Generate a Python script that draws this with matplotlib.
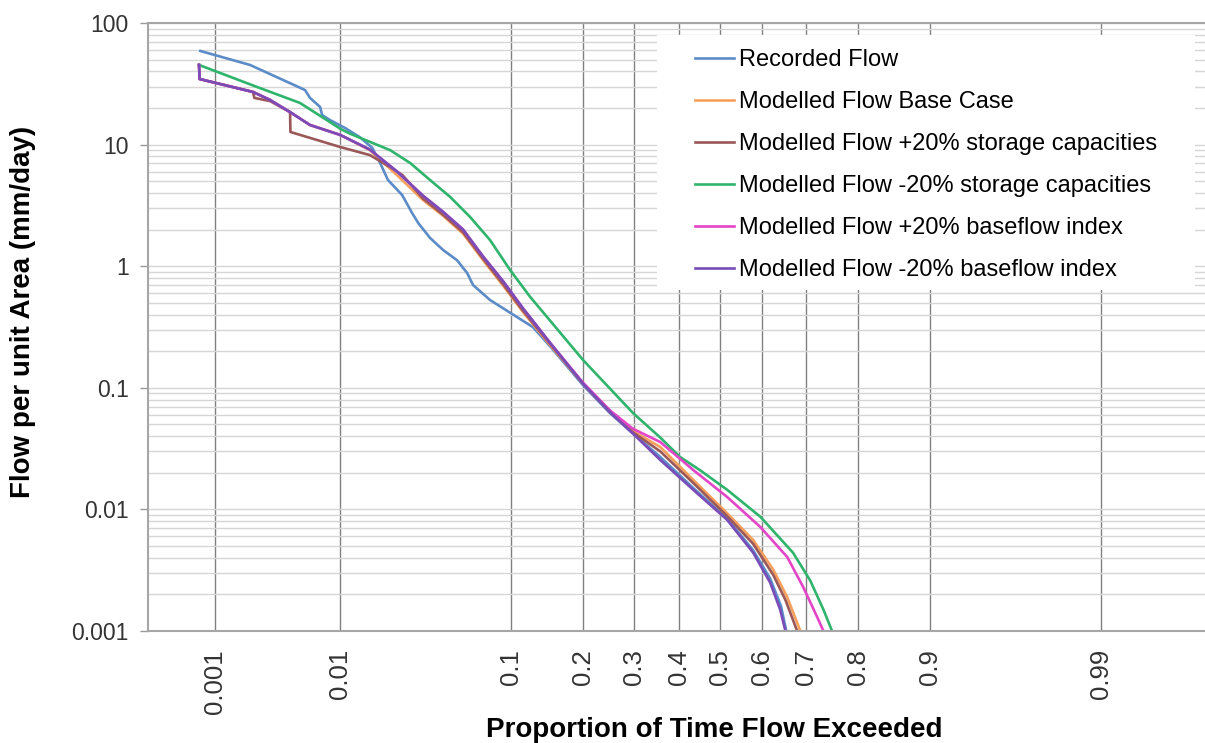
import math
import numpy as np
import matplotlib
matplotlib.use('Agg')
import matplotlib.pyplot as plt
from matplotlib.ticker import LogLocator, NullFormatter, NullLocator
from matplotlib.patches import Rectangle

plt.rcParams['font.family'] = ['Liberation Sans', 'DejaVu Sans']

# proportion of time exceeded (x) and flow per unit area in mm/day (y)
rec_p = [0.00074, 0.00202, 0.00376, 0.00557, 0.00607, 0.00722, 0.00747, 0.00854,
         0.0109, 0.0138, 0.0167, 0.0188, 0.0211, 0.0259, 0.0298, 0.0324, 0.0380,
         0.0451, 0.0538, 0.0609, 0.0654, 0.0797, 0.107, 0.126, 0.149, 0.201,
         0.250, 0.297, 0.357, 0.4345, 0.517, 0.580, 0.620, 0.645, 0.657, 0.662]
rec_q = [58.9, 45.2, 34.0, 28.1, 24.2, 20.4, 17.5, 15.9,
         13.7, 11.5, 9.4, 7.06, 5.12, 3.85, 2.74, 2.27, 1.71,
         1.36, 1.12, 0.88, 0.70, 0.527, 0.382, 0.316, 0.22, 0.105,
         0.062, 0.042, 0.027, 0.015, 0.0084, 0.0046, 0.0027, 0.0016, 0.001, 0.0008]

base_p = [0.00072, 0.00073, 0.00214, 0.00296, 0.00427, 0.00607, 0.0101, 0.0161,
          0.0241, 0.0346, 0.0451, 0.058, 0.0736, 0.0923, 0.114, 0.149, 0.201,
          0.2505, 0.297, 0.357, 0.4345, 0.517, 0.580, 0.627, 0.659, 0.688, 0.695]
base_q = [45.2, 34.6, 27.1, 23.3, 18.5, 14.5, 12.0, 9.0,
          5.6, 3.5, 2.6, 1.85, 1.12, 0.69, 0.42, 0.225, 0.108,
          0.064, 0.044, 0.0326, 0.0175, 0.0093, 0.0056, 0.0032, 0.0019, 0.001, 0.0008]

stor_up_p = [0.00072, 0.00073, 0.00214, 0.0022, 0.00296, 0.00427, 0.0043, 0.0101,
             0.0161, 0.0215, 0.0261, 0.0346, 0.0451, 0.058, 0.0736, 0.0923, 0.114,
             0.149, 0.201, 0.2505, 0.297, 0.357, 0.4345, 0.517, 0.580, 0.627,
             0.655, 0.681, 0.686]
stor_up_q = [45.2, 34.6, 27.1, 24.2, 22.8, 18.5, 12.7, 9.55,
             8.2, 6.6, 5.6, 3.6, 2.65, 1.9, 1.15, 0.71, 0.43,
             0.23, 0.108, 0.063, 0.043, 0.030, 0.0165, 0.0088, 0.0052, 0.0029,
             0.0018, 0.001, 0.0008]

stor_dn_p = [0.00072, 0.00231, 0.0051, 0.0101, 0.0118, 0.0218, 0.029, 0.038,
             0.0494, 0.0631, 0.0797, 0.0995, 0.1226, 0.201, 0.297, 0.357, 0.403,
             0.451, 0.517, 0.597, 0.672, 0.709, 0.736, 0.753, 0.758]
stor_dn_q = [45.2, 29.8, 22.0, 13.5, 12.3, 9.0, 7.06, 5.12,
             3.71, 2.54, 1.64, 0.93, 0.56, 0.169, 0.062, 0.039, 0.027,
             0.021, 0.0145, 0.0087, 0.0044, 0.0026, 0.0015, 0.001, 0.0008]

bfi_up_p = [0.00072, 0.00073, 0.00214, 0.00296, 0.00427, 0.00607, 0.0101, 0.0161,
            0.0241, 0.0346, 0.0451, 0.058, 0.0736, 0.0923, 0.114, 0.149, 0.201,
            0.2505, 0.297, 0.357, 0.4345, 0.517, 0.597, 0.659, 0.694, 0.7235,
            0.736, 0.740]
bfi_up_q = [45.2, 34.6, 27.1, 23.3, 18.5, 14.5, 12.0, 9.1,
            6.0, 3.8, 2.8, 2.0, 1.2, 0.75, 0.45, 0.235, 0.11,
            0.065, 0.046, 0.0358, 0.0211, 0.01265, 0.00716, 0.00406, 0.0023, 0.0013,
            0.001, 0.0008]

bfi_dn_p = [0.00072, 0.00073, 0.00214, 0.00296, 0.00427, 0.00607, 0.0101, 0.0161,
            0.0241, 0.0346, 0.0451, 0.058, 0.0736, 0.0923, 0.114, 0.149, 0.201,
            0.2505, 0.297, 0.357, 0.4345, 0.517, 0.580, 0.620, 0.643, 0.655, 0.660]
bfi_dn_q = [45.2, 34.6, 27.1, 23.3, 18.5, 14.5, 12.0, 9.1,
            6.0, 3.8, 2.8, 2.0, 1.2, 0.75, 0.45, 0.235, 0.108,
            0.063, 0.042, 0.0255, 0.0145, 0.0082, 0.0044, 0.0025, 0.0015, 0.001, 0.0008]

labels = ['Recorded Flow', 'Modelled Flow Base Case',
          'Modelled Flow +20% storage capacities', 'Modelled Flow -20% storage capacities',
          'Modelled Flow +20% baseflow index', 'Modelled Flow -20% baseflow index']
colors = ['#5b8cc8', '#f7a05c', '#9a5858', '#2fb46c', '#e444c8', '#7a4cb8']

x_ticks = [0.001, 0.01, 0.1, 0.2, 0.3, 0.4, 0.5, 0.6, 0.7, 0.8, 0.9, 0.99]
x_tick_labels = ['0.001', '0.01', '0.1', '0.2', '0.3', '0.4', '0.5', '0.6', '0.7',
                 '0.8', '0.9', '0.99']
y_ticks = [0.001, 0.01, 0.1, 1, 10, 100]
y_tick_labels = ['0.001', '0.01', '0.1', '1', '10', '100']


# normal probability scale (Acklam inverse normal)
A = [-3.969683028665376e+01, 2.209460984245205e+02, -2.759285104469687e+02,
     1.383577518672690e+02, -3.066479806614716e+01, 2.506628277459239e+00]
B = [-5.447609879822406e+01, 1.615858368580409e+02, -1.556989798598866e+02,
     6.680131188771972e+01, -1.328068155288572e+01]
C = [-7.784894002430293e-03, -3.223964580411365e-01, -2.400758276357320e+00,
     -2.549732539343734e+00, 4.374664141464968e+00, 2.938163982698783e+00]
D = [7.784695709041462e-03, 3.224671290700398e-01, 2.445134137142996e+00,
     3.754408661907416e+00]


def norm_ppf(p):
    p = np.clip(np.asarray(p, dtype=float), 1e-12, 1 - 1e-12)
    plow = 0.02425
    q = p - 0.5
    r = q * q
    mid = (((((A[0]*r + A[1])*r + A[2])*r + A[3])*r + A[4])*r + A[5])*q / \
          (((((B[0]*r + B[1])*r + B[2])*r + B[3])*r + B[4])*r + 1)
    ql = np.sqrt(-2 * np.log(p))
    low = (((((C[0]*ql + C[1])*ql + C[2])*ql + C[3])*ql + C[4])*ql + C[5]) / \
          ((((D[0]*ql + D[1])*ql + D[2])*ql + D[3])*ql + 1)
    qh = np.sqrt(-2 * np.log(1 - p))
    high = -(((((C[0]*qh + C[1])*qh + C[2])*qh + C[3])*qh + C[4])*qh + C[5]) / \
           ((((D[0]*qh + D[1])*qh + D[2])*qh + D[3])*qh + 1)
    return np.where(p < plow, low, np.where(p > 1 - plow, high, mid))


_erf = np.vectorize(math.erf, otypes=[float])


def norm_cdf(z):
    z = np.asarray(z, dtype=float)
    return 0.5 * (1 + _erf(z / math.sqrt(2)))


fig = plt.figure(figsize=(12.05, 7.43), dpi=100)
ax = fig.add_axes([148 / 1205, 1 - 631 / 743, 1132 / 1205, 608 / 743])

series = [(rec_p, rec_q), (base_p, base_q), (stor_up_p, stor_up_q),
          (stor_dn_p, stor_dn_q), (bfi_up_p, bfi_up_q), (bfi_dn_p, bfi_dn_q)]
handles = []
for (p, q), lab, col in zip(series, labels, colors):
    h, = ax.plot(p, q, color=col, lw=1.9, label=lab, zorder=2)
    handles.append(h)

ax.set_xscale('function', functions=(norm_ppf, norm_cdf))
ax.set_yscale('log')
ax.set_xlim(0.000234, 0.99969)
ax.set_ylim(0.001, 100)

ax.set_xticks(x_ticks)
ax.set_xticklabels(x_tick_labels, rotation=90)
ax.xaxis.set_minor_locator(NullLocator())
ax.set_yticks(y_ticks)
ax.set_yticklabels(y_tick_labels)
ax.yaxis.set_minor_locator(LogLocator(base=10, subs=np.arange(2, 10)))
ax.yaxis.set_minor_formatter(NullFormatter())

ax.tick_params(axis='x', length=0, pad=13, labelsize=18.5, labelcolor='#333333')
ax.tick_params(axis='y', which='major', length=6, width=1, color='#999999', pad=8,
               labelsize=16.5, labelcolor='#333333')
ax.tick_params(axis='y', which='minor', length=0)

ax.set_axisbelow(True)
ax.grid(axis='y', which='both', color='#d6d6d6', lw=1)
ax.grid(axis='x', which='major', color='#808080', lw=1)
for s in ax.spines.values():
    s.set_color('#a6a6a6')
    s.set_linewidth(1.5)

ax.set_xlabel('Proportion of Time Flow Exceeded', fontsize=20, fontweight='bold')
ax.xaxis.set_label_coords(0.5, -0.142)
ax.set_ylabel('Flow per unit Area (mm/day)', fontsize=20, fontweight='bold')
ax.yaxis.set_label_coords(-0.099, 0.525)

# white legend panel
ax.add_patch(Rectangle((509 / 1132, 341 / 608), 538 / 1132, 255 / 608,
                       transform=ax.transAxes, facecolor='white', edgecolor='none',
                       zorder=3))
leg = ax.legend(handles=handles, loc='upper left', bbox_to_anchor=(547 / 1132, 0.957),
                frameon=False, fontsize=17, handlelength=1.65, handletextpad=0.2,
                labelspacing=0.85, borderpad=0, borderaxespad=0)
leg.set_zorder(5)

fig.savefig('out.png', dpi=100)
